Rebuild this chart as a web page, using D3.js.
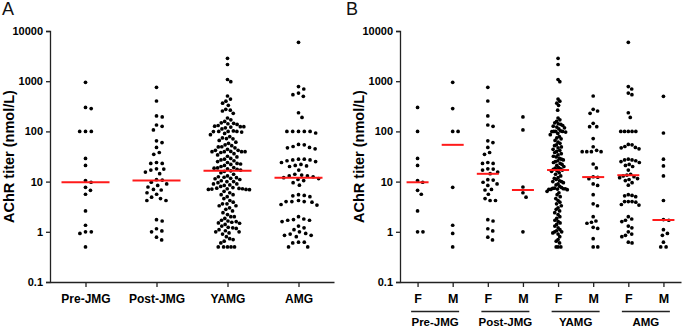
<!DOCTYPE html>
<html>
<head>
<meta charset="utf-8">
<script src="https://cdn.jsdelivr.net/npm/d3@7"></script>
<style>
    body { margin: 0; background: #fff; }
    svg text { font-family: "Liberation Sans", Arial, sans-serif; }
</style>
</head>
<body>
<svg id="chart" width="685" height="326"></svg>
<script>
var groups = ["Pre-JMG", "Post-JMG", "YAMG", "AMG"];
var sexes = ["F", "M"];
var yTicks = [0.1, 1, 10, 100, 1000, 10000];

// AChR titer values (nmol/L), by group and sex
var preF = [300, 100, 29, 21, 10.5, 9.7, 6.7, 5.6, 2.6, 1, 1];
var preM = [950, 285, 100, 100, 7.7, 1.35, 0.93, 0.5];
var postF = [755, 403, 203, 134, 126, 65, 60, 48, 38, 35, 24, 23, 23, 18, 17.8, 17, 15.5, 14.4,
    10.9, 10.7, 9.7, 9, 8.4, 7, 6.8, 5.6, 4.6, 4.2, 4.2, 1.74, 1.64, 1.15, 1.04, 0.78, 0.69];
var postM = [194, 107, 7.8, 6.0, 4.9, 1.0];
var yamgF = [2850, 2150, 1080, 980, 440, 400, 365, 330, 265, 185, 170, 158,
    148, 142, 138, 131, 127, 122, 118, 112, 102, 100, 100, 100, 99, 97,
    91, 86, 79, 74, 71, 66, 61, 58, 54, 52, 49, 47, 44, 42, 40,
    38, 36, 34, 32, 31, 29, 28, 27, 26, 25, 24, 23, 22, 21, 20,
    19, 18.5, 18, 17.6, 17, 16.4, 16, 15, 14, 13, 12, 11.6, 11, 10.4, 10, 10, 9.5, 9, 8.6, 8,
    7.6, 7.4, 7.3, 7.2, 7.2, 7.1, 7, 7, 6.9,
    6.4, 6, 5.5, 5, 4.6, 4.2, 3.9, 3.6, 3.3, 3, 2.8, 2.6, 2.4, 2.2, 2, 1.85, 1.7, 1.6, 1.5,
    1.4, 1.3, 1.2, 1.1, 1.05, 1, 1, 0.95, 0.9, 0.8, 0.7, 0.65, 0.6, 0.5, 0.5, 0.5];
var yamgM = [507, 275, 255, 229, 145, 124, 124, 72, 49.5, 42, 39.4, 39.4, 39.4, 39.4, 22.4, 18.7,
    12.5, 12.2, 11.4, 9, 8.4, 5.5, 3.6, 3.3, 2.0, 1.64, 1.55, 1.48, 1.23, 1.17, 0.73, 0.5, 0.5];
var amgF = [5960, 780, 700, 580, 540, 235, 190, 100, 100, 100, 100, 100, 55, 54, 50, 48, 47, 45,
    28, 27, 27, 26, 25, 24, 22, 21, 20, 17, 14, 13.5, 13, 12.5, 12, 11.5, 11, 10.5, 9.5, 8.5,
    5.5, 5.3, 5.2, 5, 4, 4, 4, 3.9, 3.5, 3.4, 2.0, 1.8, 1.7, 1.6, 1.3, 1.2, 1.0, 0.9, 0.85, 0.8, 0.62, 0.6];
var amgM = [500, 93, 28, 20.5, 13, 4.2, 1.75, 1.7, 1.1, 0.93, 0.85, 0.62, 0.5, 0.5];

// medians (red bars)
var medianA = [9.7, 10.5, 16.5, 12];
var medianB = [9.7, 54, 14.3, 6.8, 17, 12.3, 13.4, 1.72];

var subsets = [[preF, preM], [postF, postM], [yamgF, yamgM], [amgF, amgM]];

function init()
{
    var svg = d3.select("#chart");
    var top = 31, bottom = 282;

    var yScale = d3.scaleLog()
        .domain([0.1, 10000])
        .range([bottom, top]);

    // simple beeswarm: each dot goes as close to the centre as it can without overlap
    var swarm = function(values, gap, maxHalf) {
        var pts = values.map(function(v) { return {v: v, y: yScale(v), x: 0}; })
            .sort(function(a, b) { return a.y - b.y; });
        var placed = [];
        pts.forEach(function(p) {
            var near = placed.filter(function(q) { return Math.abs(q.y - p.y) < gap; });
            var cands = [0];
            near.forEach(function(q) {
                var dx = Math.sqrt(gap * gap - (q.y - p.y) * (q.y - p.y));
                cands.push(q.x + dx, q.x - dx);
            });
            cands.sort(function(a, b) { return Math.abs(a) - Math.abs(b) || b - a; });
            for (var i = 0; i < cands.length; i++) {
                var c = cands[i];
                var ok = near.every(function(q) {
                    return (q.x - c) * (q.x - c) + (q.y - p.y) * (q.y - p.y) >= gap * gap - 0.01;
                });
                if (ok) { p.x = c; break; }
            }
            placed.push(p);
        });
        var m = d3.max(pts, function(p) { return Math.abs(p.x); });
        if (m > maxHalf) pts.forEach(function(p) { p.x *= maxHalf / m; });
        return pts;
    };

    var yAxis = function(g) {
        g.call(d3.axisLeft(yScale)
            .tickValues(yTicks)
            .tickFormat(function(d) { return String(d); })
            .tickSize(4)
            .tickPadding(3));
        g.select(".domain").attr("stroke", "#222").attr("stroke-width", 1.3);
        g.selectAll(".tick line").attr("stroke", "#222").attr("stroke-width", 1.3);
        g.selectAll(".tick text")
            .attr("fill", "#000")
            .style("font-size", "11px")
            .style("font-weight", "bold");
    };

    var panel = function(left, letterX, letter) {
        svg.append("text")
            .attr("x", letterX)
            .attr("y", 15)
            .style("font-size", "18px")
            .attr("fill", "#111")
            .text(letter);

        svg.append("g")
            .attr("transform", "translate(" + left + ",0)")
            .call(yAxis);

        svg.append("text")
            .attr("transform", "translate(" + (left - 36) + "," + ((top + bottom) / 2) + ") rotate(-90)")
            .attr("text-anchor", "middle")
            .style("font-size", "14.5px")
            .style("font-weight", "bold")
            .attr("fill", "#000")
            .text("AChR titer (nmol/L)");
    };

    var xAxis = function(g, scale, size) {
        g.call(d3.axisBottom(scale).tickSize(5).tickPadding(7).tickSizeOuter(0));
        g.select(".domain").attr("stroke", "#222").attr("stroke-width", 1.3);
        g.selectAll(".tick line").attr("stroke", "#222").attr("stroke-width", 1.3);
        g.selectAll(".tick text")
            .attr("fill", "#000")
            .style("font-size", size)
            .style("font-weight", "bold");
    };

    var drawDots = function(values, cx, gap, maxHalf, median, halfBar) {
        var pts = swarm(values, gap, maxHalf);
        svg.append("g")
            .selectAll("circle")
            .data(pts)
            .enter()
            .append("circle")
            .attr("cx", function(d) { return cx + d.x; })
            .attr("cy", function(d) { return d.y; })
            .attr("r", 1.85)
            .attr("fill", "#000");
        svg.append("line")
            .attr("x1", cx - halfBar)
            .attr("x2", cx + halfBar)
            .attr("y1", yScale(median))
            .attr("y2", yScale(median))
            .attr("stroke", "#ff1a1a")
            .attr("stroke-width", 2);
    };

    // panel A: all patients per group
    var xA = d3.scalePoint().domain(groups).range([50, 334]).padding(0.5);
    svg.append("g")
        .attr("transform", "translate(0," + bottom + ")")
        .call(xAxis, xA, "12px");
    panel(50, 2, "A");
    groups.forEach(function(grp, i) {
        var all = subsets[i][0].concat(subsets[i][1]);
        drawDots(all, xA(grp), 5.8, 22, medianA[i], 24);
    });

    // panel B: split by sex
    var keysB = [];
    groups.forEach(function(grp) { sexes.forEach(function(s) { keysB.push(grp + "|" + s); }); });
    var xB = d3.scalePoint().domain(keysB).range([400, 681]).padding(0.5);
    svg.append("g")
        .attr("transform", "translate(0," + bottom + ")")
        .call(xAxis, xB, "12.5px")
        .selectAll(".tick text")
        .text(function(d) { return d.split("|")[1]; });
    panel(400, 346, "B");

    keysB.forEach(function(k, j) {
        var gi = Math.floor(j / 2);
        drawDots(subsets[gi][j % 2], xB(k), 5.4, 11, medianB[j], 11);
    });

    // group brackets under the F/M labels
    groups.forEach(function(grp) {
        var mid = (xB(grp + "|F") + xB(grp + "|M")) / 2;
        svg.append("line")
            .attr("x1", mid - 24)
            .attr("x2", mid + 24)
            .attr("y1", 311.5)
            .attr("y2", 311.5)
            .attr("stroke", "#222")
            .attr("stroke-width", 1.3);
        svg.append("text")
            .attr("x", mid)
            .attr("y", 325.5)
            .attr("text-anchor", "middle")
            .style("font-size", "11.5px")
            .style("font-weight", "bold")
            .attr("fill", "#000")
            .text(grp);
    });
}

window.onload = init;
</script>
</body>
</html>
